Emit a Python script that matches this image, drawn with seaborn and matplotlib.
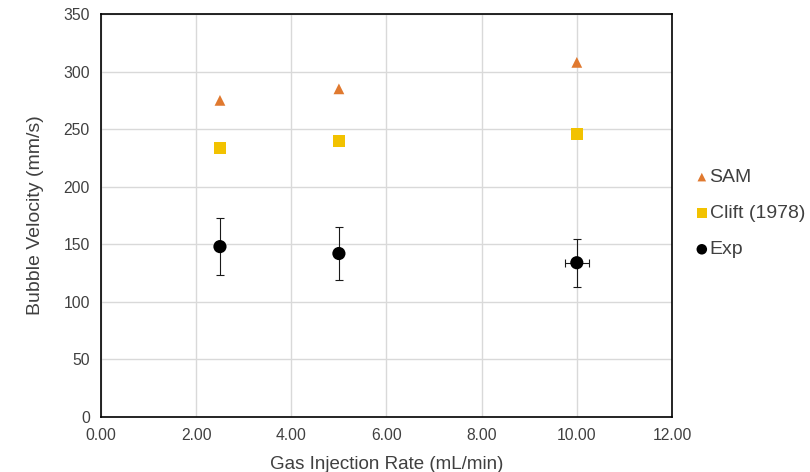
import matplotlib
matplotlib.use("Agg")
import matplotlib.pyplot as plt
import seaborn as sns
import pandas as pd
import numpy as np

rates = [2.5, 5.0, 10.0]
sam = [275, 285, 308]
clift = [234, 240, 246]
exp_v = [148, 142, 134]
exp_yerr = [25, 23, 21]
exp_xerr = [0, 0, 0.25]

series_names = ["SAM", "Clift (1978)", "Exp"]
colors = {"SAM": "#E0792F", "Clift (1978)": "#F2C200", "Exp": "#000000"}
markers = {"SAM": "^", "Clift (1978)": "s", "Exp": "o"}

sns.set_theme(style="white")
plt.rcParams["font.family"] = ["Liberation Sans", "DejaVu Sans"]

df = pd.DataFrame({
    "rate": rates * 3,
    "vel": sam + clift + exp_v,
    "series": ["SAM"] * 3 + ["Clift (1978)"] * 3 + ["Exp"] * 3,
})

fig = plt.figure(figsize=(8.10, 4.72), dpi=100)
ax = fig.add_axes([0.1247, 0.1165, 0.7049, 0.8538])

ax.errorbar(rates, exp_v, yerr=exp_yerr, xerr=exp_xerr, fmt="none",
            ecolor="#1A1A1A", elinewidth=0.8, capsize=3, capthick=0.8, zorder=2)

sizes = {"SAM": 60, "Clift (1978)": 75, "Exp": 90}
for name in series_names:
    sub = df[df["series"] == name]
    sns.scatterplot(data=sub, x="rate", y="vel", marker=markers[name],
                    color=colors[name], s=sizes[name], edgecolor="none",
                    ax=ax, label=name, zorder=3)

ax.set_xlim(0, 12)
ax.set_ylim(0, 350)
ax.set_xticks(np.arange(0, 12.01, 2))
ax.set_xticklabels([f"{v:.2f}" for v in np.arange(0, 12.01, 2)])
ax.set_yticks(np.arange(0, 351, 50))
ax.grid(True, color="#D9D9D9", linewidth=1.0)
ax.set_axisbelow(True)
for sp in ax.spines.values():
    sp.set_visible(True)
    sp.set_color("#000000")
    sp.set_linewidth(1.2)
ax.tick_params(axis="both", length=0, labelsize=11.3, colors="#404040", pad=8)

ax.set_xlabel("Gas Injection Rate (mL/min)", fontsize=13.5, color="#404040", labelpad=9)
ax.set_ylabel("Bubble Velocity (mm/s)", fontsize=14, color="#404040", labelpad=14)

leg = ax.legend(loc="center left", bbox_to_anchor=(1.025, 0.505), frameon=False,
                fontsize=14, handletextpad=0.0, labelspacing=0.95,
                markerscale=0.8, handlelength=0.8, borderaxespad=0)
for t in leg.get_texts():
    t.set_color("#404040")

fig.savefig("out.png", dpi=100)
